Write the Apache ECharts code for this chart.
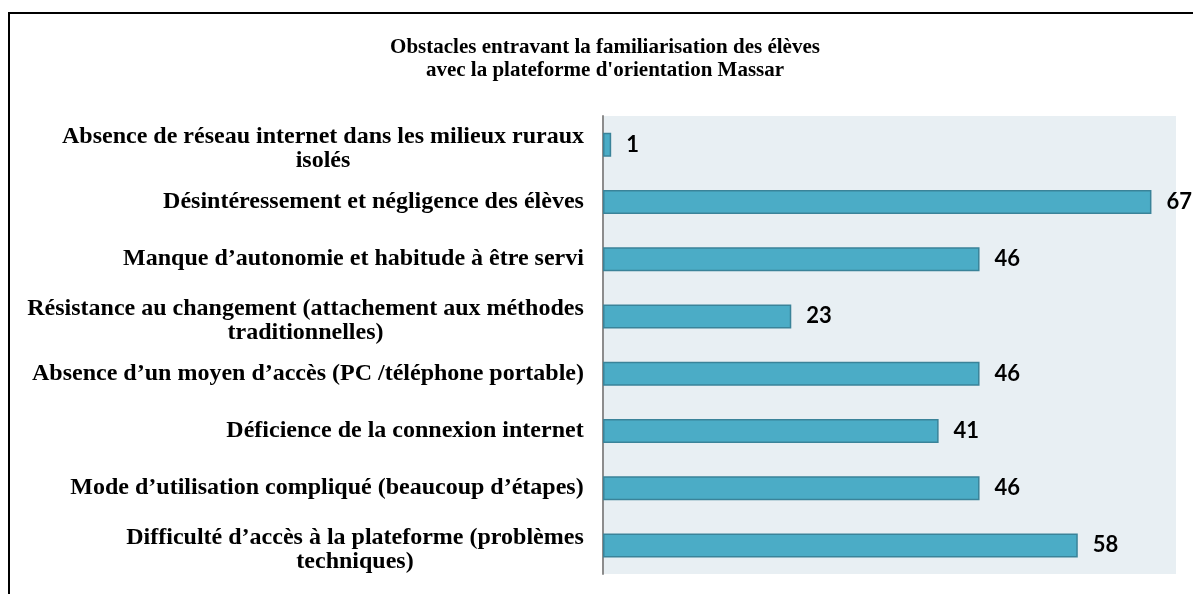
<!DOCTYPE html>
<html>
<head>
<meta charset="utf-8">
<script src="https://cdn.jsdelivr.net/npm/echarts@6/dist/echarts.min.js"></script>
<style>
  html, body { margin: 0; padding: 0; background: #fff; }
  #chart { width: 1193px; height: 594px; }
</style>
</head>
<body>
<div id="chart"></div>
<script>
// categories from top to bottom, as in the picture
const categories = [
  "Absence de réseau internet dans les milieux ruraux\nisolés",
  "Désintéressement et négligence des élèves",
  "Manque d’autonomie et habitude à être servi",
  "Résistance au changement (attachement aux méthodes\ntraditionnelles)",
  "Absence d’un moyen d’accès (PC /téléphone portable)",
  "Déficience de la connexion internet",
  "Mode d’utilisation compliqué (beaucoup d’étapes)",
  "Difficulté d’accès à la plateforme (problèmes\ntechniques)",
];
const values = [1, 67, 46, 23, 46, 41, 46, 58];
const titleLines = [
  "Obstacles entravant la familiarisation des élèves",
  "avec la plateforme d'orientation Massar",
];

const labelFont = '"Liberation Serif", "Times New Roman", serif';
const labelSize = 24;

// wrapped labels: centre each line inside the widest line's box,
// first line of a wrapped label sits a bit lower (like Excel)
const ctx = document.createElement("canvas").getContext("2d");
ctx.font = "bold " + labelSize + "px " + labelFont;
const rich = {};
categories.forEach((c, i) => {
  const w = Math.max(...c.split("\n").map((l) => ctx.measureText(l).width));
  const base = {
    width: Math.ceil(w),
    align: "center",
    fontFamily: labelFont,
    fontWeight: "bold",
    fontSize: labelSize,
    color: "#000",
  };
  rich["c" + i] = Object.assign({}, base, { lineHeight: 25 });
  rich["f" + i] = Object.assign({}, base, { lineHeight: 33, verticalAlign: "bottom" });
});

const myChart = echarts.init(document.getElementById("chart"));
myChart.setOption({
  animation: false,
  title: {
    text: titleLines.join("\n"),
    left: 600,
    top: 31,
    textAlign: "center",
    textStyle: {
      fontFamily: labelFont,
      fontWeight: "bold",
      fontSize: 21,
      lineHeight: 23,
      color: "#000",
    },
  },
  graphic: [
    {
      type: "rect",
      shape: { x: 9, y: 13, width: 1300, height: 700 },
      style: { fill: "none", stroke: "#000", lineWidth: 2 },
      silent: true,
    },
  ],
  grid: {
    left: 603,
    right: 17,
    top: 116,
    bottom: 20,
    show: true,
    backgroundColor: "#E8EFF3",
    borderWidth: 0,
  },
  xAxis: {
    type: "value",
    min: 0,
    max: 70,
    show: false,
  },
  yAxis: {
    type: "category",
    inverse: true,
    data: categories,
    axisLine: { show: true, lineStyle: { color: "#8c8c8c", width: 2 } },
    axisTick: { show: false },
    axisLabel: {
      margin: 19,
      interval: 0,
      formatter: (v, i) => {
        const lines = v.split("\n");
        if (lines.length === 1) return "{c" + i + "|" + v + "}";
        return lines
          .map((l, k) => "{" + (k === 0 ? "f" : "c") + i + "|" + l + "}")
          .join("\n");
      },
      rich: rich,
    },
  },
  series: [
    {
      type: "bar",
      data: values,
      barWidth: 24,
      itemStyle: {
        color: "#4BACC6",
        borderColor: "#3A8399",
        borderWidth: 1.5,
      },
      label: {
        show: true,
        position: "right",
        distance: 15,
        fontFamily: "Lato, 'Open Sans', sans-serif",
        fontWeight: "bold",
        fontSize: 22,
        color: "#000",
      },
    },
  ],
});
</script>
</body>
</html>
